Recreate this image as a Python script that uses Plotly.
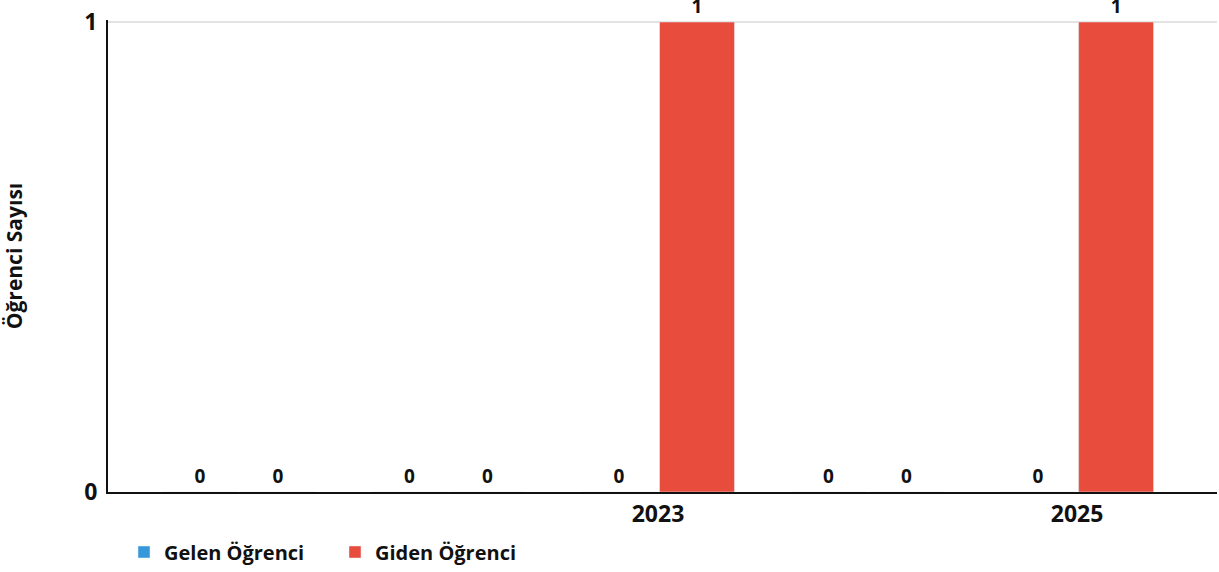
import plotly.graph_objects as go

years = [2021, 2022, 2023, 2024, 2025]
gelen = [0, 0, 0, 0, 0]
giden = [0, 0, 1, 0, 1]
tick_vals = [2023, 2025]
tick_text = ["2023", "2025"]

FONT = "Open Sans"
W, H = 1219, 572

fig = go.Figure()
fig.add_trace(go.Bar(
    x=years, y=gelen, name="Gelen Öğrenci", marker_color="#3498db",
    text=[str(v) for v in gelen], textposition="outside", cliponaxis=False,
    textfont=dict(family=FONT, size=19, color="#111", weight="bold"),
))
fig.add_trace(go.Bar(
    x=years, y=giden, name="Giden Öğrenci", marker_color="#e74c3c",
    text=[str(v) for v in giden], textposition="outside", cliponaxis=False,
    textfont=dict(family=FONT, size=19, color="#111", weight="bold"),
))

fig.update_layout(
    width=W, height=H,
    margin=dict(l=108, r=2, t=20, b=80, autoexpand=False),
    barmode="group", bargap=0.255, bargroupgap=0.04,
    plot_bgcolor="white", paper_bgcolor="white",
    font=dict(family=FONT, color="#111"),
    showlegend=True,
    legend=dict(orientation="h", xref="container", yref="container",
                x=124 / W, y=1 - 552 / H, xanchor="left", yanchor="middle",
                font=dict(family=FONT, size=20, color="#111", weight="bold"),
                entrywidth=166, entrywidthmode="pixels"),
    xaxis=dict(range=[2020.375, 2025.668], tickvals=tick_vals, ticktext=tick_text,
               showline=True, linecolor="#111", linewidth=2, showgrid=False,
               zeroline=False, automargin=False,
               tickfont=dict(family=FONT, size=23, color="#111", weight="bold")),
    yaxis=dict(range=[0, 1.00426], tickvals=[0, 1], showline=True, linecolor="#111",
               linewidth=2, showgrid=True, gridcolor="#e3e3e3", gridwidth=1.5,
               zeroline=False, ticklabelstandoff=4, automargin=False,
               tickfont=dict(family=FONT, size=23, color="#111", weight="bold"),
               title=dict(text="Öğrenci Sayısı", standoff=65,
                          font=dict(family=FONT, size=21, color="#111", weight="bold"))),
)

fig.write_html("out.html", config={"displayModeBar": False},
               post_script="document.body.style.margin='0';")
